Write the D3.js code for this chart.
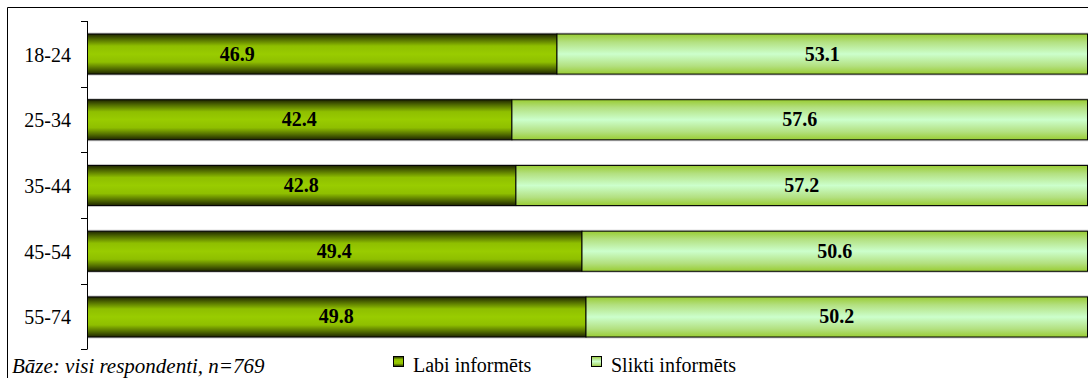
<!DOCTYPE html>
<html>
<head>
<meta charset="utf-8">
<script src="https://cdn.jsdelivr.net/npm/d3@7"></script>
<style>
  body { margin: 0; background: #fff; }
</style>
</head>
<body>
<div id="chart"></div>
<script>
"use strict";

// age groups and shares (%)
var categories = ["18-24", "25-34", "35-44", "45-54", "55-74"];
var labi = [46.9, 42.4, 42.8, 49.4, 49.8];
var slikti = [53.1, 57.6, 57.2, 50.6, 50.2];
// where the "labi" label sits (value units); null = centre of segment
var labiLabelAt = [15.0, null, null, null, null];
var seriesNames = ["Labi informēts", "Slikti informēts"];
var footnote = "Bāze: visi respondenti, n=769";

var W = 1088, H = 378;
var margin = {top: 21, right: 0, bottom: 29, left: 87};
var width = W - margin.left - margin.right,
    height = H - margin.top - margin.bottom;
var FONT = "'Liberation Serif', 'Times New Roman', Tinos, serif";

var svg = d3.select("#chart").append("svg")
    .attr("width", W)
    .attr("height", H)
    .attr("font-family", FONT)
    .style("font-family", FONT);

// gradients
var defs = svg.append("defs");
function vgrad(id, stops) {
    var g = defs.append("linearGradient").attr("id", id)
        .attr("x1", 0).attr("y1", 0).attr("x2", 0).attr("y2", 1);
    stops.forEach(function(s) {
        g.append("stop").attr("offset", s[0]).attr("stop-color", s[1]);
    });
}
vgrad("gDark", [[0, "#1f2600"], [0.12, "#4d6600"], [0.3, "#8fbf00"], [0.5, "#99cc00"], [0.7, "#8fbf00"], [0.88, "#4d6600"], [1, "#1f2600"]]);
vgrad("gLight", [[0, "#99cc33"], [0.2, "#b3e080"], [0.5, "#ccffcc"], [0.8, "#b3e080"], [1, "#99cc33"]]);

// frame
svg.append("path")
    .attr("d", "M7.5," + H + "V7.5H" + W)
    .attr("fill", "none")
    .attr("stroke", "#000")
    .attr("stroke-width", 1);

var g = svg.append("g")
    .attr("transform", "translate(" + margin.left + "," + margin.top + ")");

var x = d3.scaleLinear().domain([0, 100]).range([0, width]);
var y = d3.scaleBand().domain(categories).range([0, height]).paddingInner(0.39).paddingOuter(0.19);

var rows = categories.map(function(c, i) {
    return {cat: c, a: labi[i], b: slikti[i], at: labiLabelAt[i]};
});

// shadow line
g.selectAll(".shadow").data(rows).enter().append("rect")
    .attr("x", x(0))
    .attr("y", function(d) { return y(d.cat) - 1; })
    .attr("width", width)
    .attr("height", y.bandwidth() + 3)
    .attr("fill", "#d0d0d0");

g.selectAll(".barA").data(rows).enter().append("rect")
    .attr("x", x(0) + 0.5)
    .attr("y", function(d) { return y(d.cat) + 0.5; })
    .attr("width", function(d) { return x(d.a) - x(0); })
    .attr("height", y.bandwidth())
    .attr("fill", "url(#gDark)")
    .attr("stroke", "#000");

g.selectAll(".barB").data(rows).enter().append("rect")
    .attr("x", function(d) { return x(d.a) + 0.5; })
    .attr("y", function(d) { return y(d.cat) + 0.5; })
    .attr("width", function(d) { return x(d.a + d.b) - x(d.a) - 1; })
    .attr("height", y.bandwidth())
    .attr("fill", "url(#gLight)")
    .attr("stroke", "#000");

// value labels
g.selectAll(".lblA").data(rows).enter().append("text")
    .attr("x", function(d) { return x(d.at == null ? d.a / 2 : d.at); })
    .attr("y", function(d) { return y(d.cat) + y.bandwidth() / 2 + 7; })
    .attr("text-anchor", "middle")
    .style("font-size", "20px")
    .style("font-weight", "bold")
    .text(function(d) { return d.a.toFixed(1); });

g.selectAll(".lblB").data(rows).enter().append("text")
    .attr("x", function(d) { return x(d.a + d.b / 2); })
    .attr("y", function(d) { return y(d.cat) + y.bandwidth() / 2 + 7; })
    .attr("text-anchor", "middle")
    .style("font-size", "20px")
    .style("font-weight", "bold")
    .text(function(d) { return d.b.toFixed(1); });

// y axis with ticks between categories
var ax = g.append("g");
ax.append("line")
    .attr("x1", 0.5).attr("x2", 0.5)
    .attr("y1", 0).attr("y2", height)
    .attr("stroke", "#000");
var step = y.step();
var tickYs = d3.range(categories.length + 1).map(function(i) {
    return i === categories.length ? height : y(categories[0]) - y.paddingOuter() * step + i * step;
});
ax.selectAll(".tk").data(tickYs).enter().append("line")
    .attr("x1", -6).attr("x2", 0.5)
    .attr("y1", function(d) { return Math.round(d) + 0.5; })
    .attr("y2", function(d) { return Math.round(d) + 0.5; })
    .attr("stroke", "#000");

ax.selectAll(".cat").data(categories).enter().append("text")
    .attr("x", -16)
    .attr("y", function(d) { return y(d) + y.bandwidth() / 2 + 8; })
    .attr("text-anchor", "end")
    .style("font-size", "20px")
    .text(function(d) { return d; });

// footnote
svg.append("text")
    .attr("x", 12)
    .attr("y", 373)
    .style("font-size", "21px")
    .style("font-style", "italic")
    .text(footnote);

// legend
var legX = [393, 591];
var legend = svg.selectAll(".leg").data(seriesNames).enter().append("g")
    .attr("transform", function(d, i) { return "translate(" + legX[i] + ",356)"; });
legend.append("rect")
    .attr("x", 0.5).attr("y", 0.5)
    .attr("width", 10).attr("height", 10)
    .attr("fill", function(d, i) { return i === 0 ? "url(#gDark)" : "url(#gLight)"; })
    .attr("stroke", "#000");
legend.append("text")
    .attr("x", 20)
    .attr("y", 16)
    .style("font-size", "20px")
    .text(function(d) { return d; });
</script>
</body>
</html>
